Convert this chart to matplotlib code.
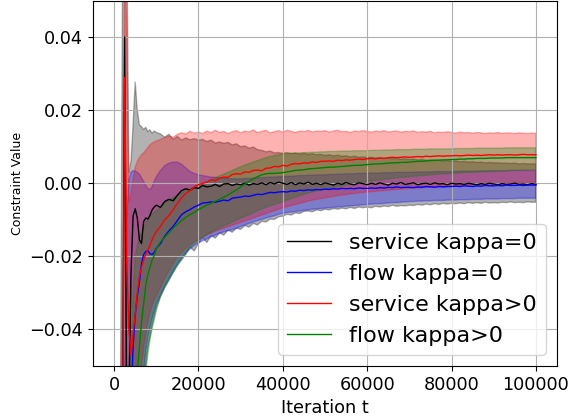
import numpy as np
import matplotlib
matplotlib.use("Agg")
import matplotlib.pyplot as plt

# iteration grid: every 500 up to 9500, then every 1000 up to 100000
iterations = np.concatenate([np.arange(0, 10000, 500), np.arange(10000, 100001, 1000)])

# all constraint values below are in units of 1e-3
service_k0_mean = [
    -300, -260, -220, -160, -70, 40, -70, -60, -25, -9, -7, -9.5, -15.5, -16.5, -10.5, -9.5, -9.8, -8.8, -7.3, -6.5,
    -6.0, -6.6, -5.0, -4.4, -4.8, -3.3, -2.0, -1.5, -1.9, -1.2,
    -1.4, -0.6, -1.0, -0.8, -0.3, -0.9, -0.2, -0.1, -0.6, -0.2,
    -0.4, 0.0, -0.5, -0.1, -0.3, 0.1, -0.4, 0.2, -0.2, 0.3,
    0.0, -0.3, 0.2, -0.4, 0.1, -0.2, 0.3, -0.3, 0.0, -0.4,
    0.1, -0.2, -0.5, 0.0, -0.3, 0.2, -0.2, -0.4, 0.1, -0.1,
    -0.4, 0.0, -0.3, 0.1, -0.2, -0.5, 0.0, -0.2, 0.2, -0.3,
    -0.1, 0.1, -0.4, -0.1, 0.0, -0.3, 0.1, -0.2, -0.1, -0.4,
    0.0, -0.2, -0.1, -0.3, 0.0, -0.2, -0.4, -0.1, -0.3, 0.0,
    -0.2, -0.4, -0.1, -0.3, -0.2, 0.0, -0.3, -0.2, -0.4, -0.1,
    -0.3]
service_k0_hi = [
    -150, -120, -90, -60, 55, 120, 70, 3, 6, 16, 27.7, 20, 16, 15.5, 14.7, 15.3, 14.2, 14.6, 13.7, 14.3,
    13.9, 13.5, 12.6, 13.4, 12.0, 12.8, 11.8, 12.4, 11.9, 12.2,
    11.8, 12.0, 11.4, 11.8, 11.0, 11.3, 10.9, 11.2, 10.5, 10.8,
    10.0, 10.2, 9.6, 9.9, 9.2, 9.0, 8.6, 8.8, 8.3, 8.4,
    8.2, 8.4, 8.1, 8.3, 8.0, 8.2, 7.9, 8.1, 7.8, 7.9,
    7.6, 7.8, 7.5, 7.7, 7.4, 7.5, 7.2, 7.4, 7.1, 7.2,
    7.0, 7.1, 6.9, 7.0, 6.8, 6.9, 6.7, 6.8, 6.6, 6.7,
    6.5, 6.6, 6.4, 6.5, 6.3, 6.4, 6.2, 6.3, 6.1, 6.2,
    6.0, 6.1, 5.9, 6.0, 5.8, 5.9, 5.7, 5.8, 5.6, 5.7,
    5.6, 5.6, 5.5, 5.5, 5.4, 5.5, 5.3, 5.4, 5.3, 5.3,
    5.3]
service_k0_lo = [
    -400, -380, -350, -300, -250, -200, -250, -200, -150, -120, -90, -78, -68, -61, -55, -50, -45, -42, -39, -36.5,
    -34, -31, -28.5, -26.5, -24.5, -22.5, -21, -19.5, -17.5, -18.5,
    -16.5, -15.0, -16.2, -14.3, -15.0, -13.6, -14.2, -12.8, -13.4, -12.3,
    -12.6, -11.6, -12.0, -11.0, -11.4, -10.4, -10.6, -9.8, -9.9, -9.2,
    -9.0, -8.5, -8.7, -8.1, -8.3, -7.7, -7.6, -7.8, -7.3, -7.5,
    -7.1, -7.3, -6.9, -7.1, -6.8, -7.0, -6.6, -6.9, -6.5, -6.7,
    -6.5, -6.7, -6.3, -6.5, -6.2, -6.4, -6.0, -6.3, -6.1, -6.2,
    -6.0, -6.1, -5.8, -6.0, -5.7, -5.9, -5.6, -5.8, -5.5, -5.7,
    -5.5, -5.6, -5.4, -5.6, -5.3, -5.5, -5.3, -5.5, -5.2, -5.4,
    -5.3, -5.4, -5.2, -5.3, -5.1, -5.3, -5.2, -5.3, -5.1, -5.2,
    -5.2]

flow_k0_mean = [
    -400, -380, -350, -300, -250, -200, -150, -100, -60, -45, -36, -31, -27, -22, -19.5, -18.7, -18.4, -19.3, -19.5, -19.0,
    -17.8, -16.5, -14.5, -13.0, -11.8, -10.2, -8.6, -7.8, -7.2, -6.5,
    -6.0, -5.4, -5.3, -5.1, -5.2, -4.9, -4.6, -4.8, -4.1, -3.9,
    -3.8, -3.5, -3.6, -3.3, -3.0, -3.1, -2.8, -2.5, -2.6, -2.4,
    -2.3, -2.4, -2.1, -2.2, -1.9, -2.0, -1.8, -1.9, -1.7, -1.8,
    -1.6, -1.7, -1.5, -1.6, -1.4, -1.5, -1.4, -1.5, -1.3, -1.4,
    -1.4, -1.3, -1.4, -1.2, -1.3, -1.1, -1.2, -1.0, -1.2, -1.1,
    -1.1, -1.2, -1.0, -1.1, -0.9, -1.0, -1.1, -0.9, -1.0, -0.9,
    -0.9, -0.8, -0.9, -0.7, -0.8, -0.9, -0.7, -0.8, -0.6, -0.7,
    -0.7, -0.6, -0.7, -0.5, -0.6, -0.6, -0.5, -0.6, -0.5, -0.5,
    -0.5]
flow_k0_hi = [
    -300, -250, -200, -150, -100, -50, -10, 1, 3, 3.5, 3.3, 3.0, 2.5, 1.5, 0.5, -0.5, -1.5, -1.7, -1.0, 0.5,
    1.8, 3.5, 4.8, 5.5, 5.8, 5.8, 5.2, 4.2, 3.2, 2.7,
    2.3, 2.1, 1.9, 1.7, 1.6, 1.5, 1.4, 1.3, 1.2, 1.2,
    1.2, 1.3, 1.3, 1.4, 1.5, 1.5, 1.6, 1.7, 1.7, 1.8,
    1.8, 1.9, 1.9, 2.0, 2.1, 2.1, 2.2, 2.2, 2.3, 2.3,
    2.3, 2.4, 2.4, 2.5, 2.5, 2.6, 2.6, 2.6, 2.7, 2.7,
    2.7, 2.8, 2.8, 2.8, 2.9, 2.9, 2.9, 3.0, 3.0, 3.0,
    3.0, 3.0, 3.1, 3.1, 3.1, 3.1, 3.2, 3.2, 3.2, 3.2,
    3.2, 3.2, 3.3, 3.3, 3.3, 3.3, 3.3, 3.4, 3.4, 3.4,
    3.4, 3.4, 3.4, 3.4, 3.5, 3.5, 3.5, 3.5, 3.5, 3.5,
    3.5]
flow_k0_lo = [
    -500, -480, -450, -400, -350, -300, -250, -200, -170, -140, -120, -95, -75, -62, -52, -46, -42, -39.5, -37, -35,
    -33, -30.5, -28, -26, -24, -22, -20.5, -19, -18, -17,
    -16.3, -15.8, -15.2, -14.7, -14.2, -13.7, -13.3, -13.0, -12.7, -12.3,
    -11.8, -11.4, -11.0, -10.6, -10.2, -9.9, -9.5, -9.2, -8.9, -8.5,
    -8.2, -8.0, -7.9, -7.7, -7.6, -7.4, -7.3, -7.1, -7.0, -6.9,
    -6.8, -6.7, -6.6, -6.5, -6.4, -6.3, -6.2, -6.1, -6.0, -5.9,
    -5.8, -5.7, -5.6, -5.6, -5.5, -5.4, -5.3, -5.3, -5.2, -5.1,
    -5.0, -5.0, -4.9, -4.9, -4.8, -4.8, -4.7, -4.7, -4.7, -4.6,
    -4.6, -4.6, -4.5, -4.5, -4.5, -4.4, -4.4, -4.4, -4.3, -4.3,
    -4.3, -4.3, -4.2, -4.2, -4.2, -4.2, -4.1, -4.1, -4.1, -4.1,
    -4.1]

service_kp_mean = [
    -300, -260, -220, -160, -80, 29, -21, -40, -47, -41, -36, -30, -25.5, -23, -21, -19.5, -18.2, -17, -15.5, -14.3,
    -13.2, -11.8, -10.0, -8.8, -7.2, -5.5, -4.0, -2.8, -2.0, -1.0,
    -0.4, 0.0, 0.3, 0.9, 0.7, 1.4, 1.7, 1.6, 2.4, 2.6,
    2.5, 3.1, 3.0, 3.5, 3.6, 3.4, 4.1, 4.2, 4.6, 4.5,
    4.9, 4.7, 5.2, 5.4, 5.3, 5.6, 5.5, 5.8, 5.7, 6.0,
    6.0, 6.1, 6.0, 6.3, 6.2, 6.4, 6.3, 6.5, 6.6, 6.5,
    6.7, 6.8, 6.7, 6.9, 6.8, 7.0, 7.1, 7.0, 7.1, 7.2,
    7.1, 7.2, 7.3, 7.2, 7.4, 7.3, 7.4, 7.5, 7.4, 7.5,
    7.5, 7.6, 7.5, 7.6, 7.7, 7.6, 7.7, 7.6, 7.7, 7.8,
    7.7, 7.8, 7.7, 7.8, 7.8, 7.7, 7.8, 7.9, 7.8, 7.8,
    7.8]
service_kp_hi = [
    -150, -120, -90, -60, -30, 65, 40, -5, -3, 1, 4.4, 6, 7, 7.8, 8.3, 9.0, 9.8, 10.5, 11.0, 11.3,
    11.6, 12.0, 12.5, 12.9, 12.6, 13.4, 13.8, 13.5, 14.2, 13.7,
    14.0, 13.6, 14.3, 13.8, 14.5, 13.9, 14.2, 13.6, 14.1, 14.4,
    13.8, 14.3, 14.0, 14.6, 13.9, 14.2, 14.5, 13.8, 14.1, 14.4,
    14.0, 14.5, 14.2, 13.9, 14.3, 14.1, 14.5, 14.0, 14.3, 14.2,
    14.4, 14.0, 14.3, 14.5, 14.1, 14.2, 13.9, 14.3, 14.1, 14.4,
    14.2, 14.0, 14.3, 14.1, 14.4, 14.0, 14.2, 14.3, 14.0, 14.2,
    14.1, 14.3, 13.9, 14.1, 14.0, 14.2, 13.8, 14.0, 13.9, 14.1,
    13.9, 13.7, 14.0, 13.8, 13.9, 13.7, 13.9, 13.8, 13.6, 13.8,
    13.7, 13.9, 13.6, 13.8, 13.7, 13.6, 13.8, 13.7, 13.6, 13.7,
    13.7]
service_kp_lo = [
    -450, -420, -380, -330, -260, -150, -200, -220, -200, -150, -100, -70, -55, -50, -45, -41, -38, -35.5, -33.5, -32,
    -31, -28.5, -26, -24, -22, -20.3, -19, -17.8, -16.8, -16.0,
    -15.3, -14.7, -14.1, -13.6, -13.1, -12.7, -12.3, -11.9, -11.5, -11.1,
    -10.7, -10.3, -9.9, -9.5, -9.1, -8.7, -8.3, -7.9, -7.5, -7.1,
    -6.7, -6.4, -6.1, -5.8, -5.5, -5.2, -4.9, -4.6, -4.4, -4.2,
    -4.0, -3.8, -3.6, -3.4, -3.2, -3.1, -2.9, -2.8, -2.6, -2.5,
    -2.4, -2.3, -2.2, -2.1, -2.0, -1.9, -1.8, -1.7, -1.6, -1.5,
    -1.4, -1.3, -1.3, -1.2, -1.1, -1.0, -1.0, -0.9, -0.8, -0.8,
    -0.7, -0.6, -0.6, -0.5, -0.5, -0.4, -0.4, -0.3, -0.3, -0.2,
    -0.2, -0.1, -0.1, 0.0, 0.0, 0.1, 0.1, 0.2, 0.2, 0.3,
    0.3]

flow_kp_mean = [
    -500, -470, -440, -400, -350, -300, -250, -200, -150, -100, -60, -52, -45, -38, -33, -28, -25, -23, -21, -19.8,
    -18, -16, -14.8, -13.5, -12.3, -11.2, -10.2, -9.3, -8.6, -8.0,
    -7.2, -6.6, -6.0, -5.5, -4.9, -4.4, -3.8, -3.2, -2.5, -1.8,
    -1.0, -0.2, 0.5, 1.2, 1.8, 2.3, 2.6, 2.7, 2.7, 2.8,
    2.9, 3.1, 3.3, 3.5, 3.6, 3.7, 3.9, 4.0, 4.1, 4.2,
    4.3, 4.4, 4.4, 4.5, 4.6, 4.7, 4.8, 4.9, 4.9, 5.0,
    5.1, 5.2, 5.3, 5.3, 5.4, 5.5, 5.6, 5.6, 5.7, 5.7,
    5.8, 5.9, 6.0, 6.0, 6.1, 6.2, 6.3, 6.3, 6.4, 6.4,
    6.5, 6.5, 6.6, 6.6, 6.7, 6.7, 6.8, 6.8, 6.8, 6.9,
    6.9, 6.9, 6.9, 7.0, 7.0, 7.0, 7.0, 7.0, 7.0, 7.0,
    7.0]
flow_kp_hi = [
    -300, -280, -250, -220, -180, -140, -100, -70, -45, -30, -20, -17, -15, -13.5, -12, -11, -10, -9.2, -8.5, -8.0,
    -7.5, -6.5, -5.5, -4.7, -4.0, -3.3, -2.6, -2.0, -1.5, -1.0,
    -0.6, -0.1, 0.4, 1.0, 1.5, 2.0, 2.5, 3.0, 3.5, 4.0,
    4.5, 5.0, 5.4, 5.8, 6.2, 6.6, 7.0, 7.3, 7.6, 7.8,
    8.0, 8.1, 8.2, 8.2, 8.3, 8.4, 8.4, 8.5, 8.5, 8.6,
    8.6, 8.7, 8.7, 8.7, 8.8, 8.8, 8.8, 8.9, 8.9, 8.9,
    8.9, 9.0, 9.0, 9.0, 9.1, 9.1, 9.1, 9.2, 9.2, 9.2,
    9.2, 9.3, 9.3, 9.3, 9.3, 9.4, 9.4, 9.4, 9.4, 9.4,
    9.4, 9.5, 9.5, 9.5, 9.5, 9.5, 9.6, 9.6, 9.6, 9.6,
    9.6, 9.6, 9.6, 9.7, 9.7, 9.7, 9.7, 9.7, 9.7, 9.7,
    9.7]
flow_kp_lo = [
    -700, -650, -600, -550, -500, -450, -400, -350, -300, -250, -200, -130, -90, -72, -60, -52, -47, -43, -40, -37.5,
    -35, -31, -28.6, -26.5, -24.2, -22.5, -20.5, -19, -17.5, -16.5,
    -15.5, -14.8, -14.0, -13.4, -12.8, -12.2, -11.7, -11.2, -10.6, -10.1,
    -9.6, -9.1, -8.6, -8.1, -7.5, -7.0, -6.6, -6.2, -5.8, -5.4,
    -5.0, -4.6, -4.2, -3.8, -3.4, -3.0, -2.7, -2.4, -2.1, -1.8,
    -1.5, -1.3, -1.1, -0.9, -0.7, -0.5, -0.3, -0.1, 0.1, 0.3,
    0.5, 0.6, 0.8, 0.9, 1.1, 1.2, 1.3, 1.5, 1.6, 1.7,
    1.8, 1.9, 2.0, 2.1, 2.2, 2.3, 2.4, 2.5, 2.6, 2.6,
    2.7, 2.8, 2.8, 2.9, 3.0, 3.0, 3.1, 3.1, 3.2, 3.2,
    3.3, 3.3, 3.4, 3.4, 3.5, 3.5, 3.6, 3.6, 3.7, 3.7,
    3.7]

labels = ["service kappa=0", "flow kappa=0", "service kappa>0", "flow kappa>0"]
colors = ["black", "blue", "red", "green"]
series = [
    (service_k0_mean, service_k0_lo, service_k0_hi),
    (flow_k0_mean, flow_k0_lo, flow_k0_hi),
    (service_kp_mean, service_kp_lo, service_kp_hi),
    (flow_kp_mean, flow_kp_lo, flow_kp_hi),
]
scale = 1e-3

fig = plt.figure(figsize=(5.73, 4.18), dpi=100)
ax = fig.add_axes([93 / 573, 52 / 418, 464 / 573, 365.5 / 418])

for (mean, lo, hi), lab, col in zip(series, labels, colors):
    m = np.array(mean) * scale
    l = np.array(lo) * scale
    h = np.array(hi) * scale
    ax.fill_between(iterations, l, h, color=col, alpha=0.3)
    ax.plot(iterations, m, color=col, linewidth=1.0, label=lab)

ax.set_xlim(-5000, 105000)
ax.set_ylim(-0.05, 0.05)
ax.set_xticks([0, 20000, 40000, 60000, 80000, 100000])
ax.set_yticks([-0.04, -0.02, 0.0, 0.02, 0.04])
ax.tick_params(labelsize=12.7)
ax.grid(True)
ax.set_xlabel("Iteration t", fontsize=12.8)
ax.set_ylabel("Constraint Value", fontsize=9)
ax.legend(loc="lower right", fontsize=16)

fig.savefig("out.png", dpi=100)
